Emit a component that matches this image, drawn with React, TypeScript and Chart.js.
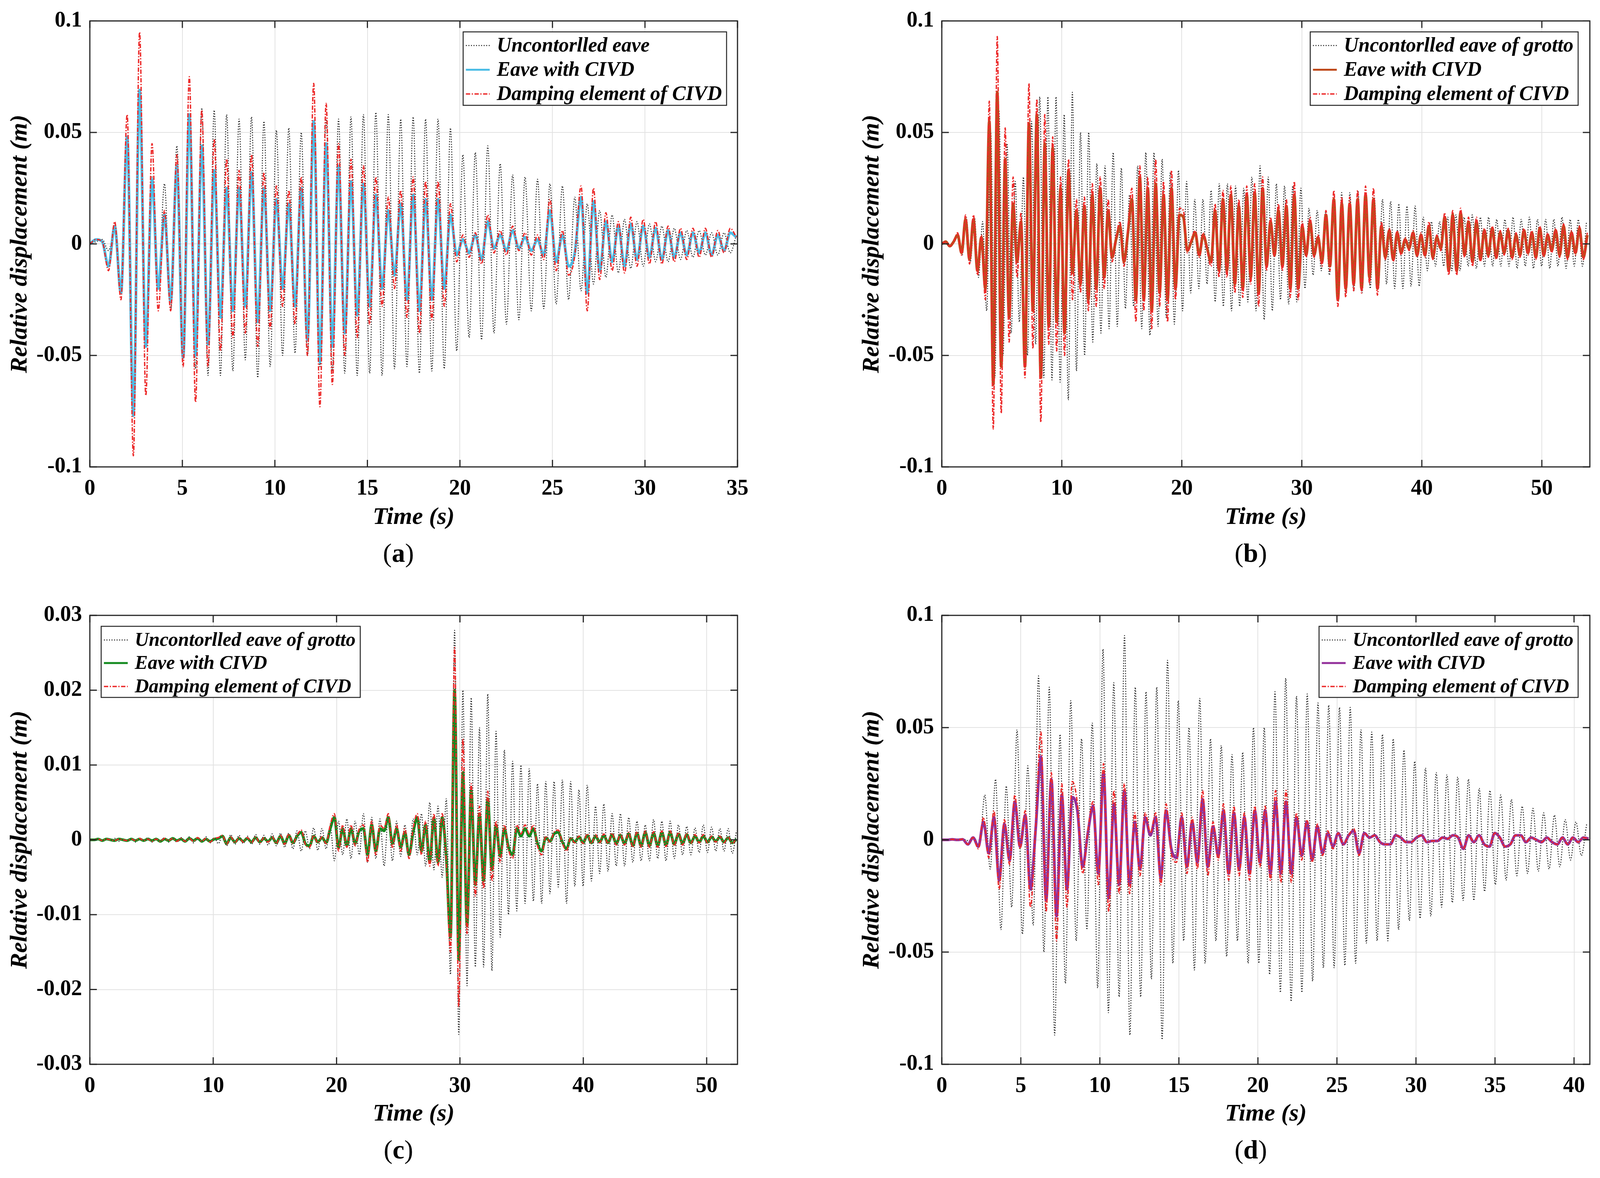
import React, { useEffect, useRef } from "react";
import { Chart, registerables } from "chart.js";

Chart.register(...registerables);

// Panel (a)
const A_STEP = 0.336;
const aUncontrolled = [
  0, 0.001, 0.002, -0.003, 0.006, -0.02, 0.045, -0.07, 0.065, -0.045,
  0.03, -0.02, 0.027, -0.03, 0.044, -0.05, 0.052, -0.056, 0.061, -0.059,
  0.06, -0.059, 0.058, -0.057, 0.056, -0.052, 0.057, -0.06, 0.055, -0.055,
  0.051, -0.05, 0.052, -0.049, 0.05, -0.05, 0.052, -0.055, 0.056, -0.057,
  0.056, -0.058, 0.057, -0.059, 0.058, -0.058, 0.059, -0.059, 0.058, -0.056,
  0.056, -0.055, 0.057, -0.058, 0.056, -0.057, 0.056, -0.056, 0.052, -0.048,
  0.04, -0.042, 0.041, -0.043, 0.044, -0.04, 0.036, -0.036, 0.031, -0.034,
  0.03, -0.03, 0.029, -0.029, 0.027, -0.027, 0.026, -0.025, 0.021, -0.021,
  0.018, -0.018, 0.015, -0.015, 0.013, -0.013, 0.011, -0.011, 0.01, -0.01,
  0.009, -0.008, 0.008, -0.008, 0.007, -0.007, 0.006, -0.006, 0.006, -0.005,
  0.005, -0.005, 0.005, -0.004, 0.004,
];
const aEave = [
  0, 0.002, 0.001, -0.01, 0.008, -0.022, 0.048, -0.077, 0.069, -0.046,
  0.029, -0.02, 0.013, -0.026, 0.035, -0.051, 0.058, -0.05, 0.044, -0.045,
  0.033, -0.033, 0.025, -0.03, 0.025, -0.028, 0.032, -0.035, 0.025, -0.03,
  0.02, -0.02, 0.018, -0.028, 0.025, -0.043, 0.055, -0.053, 0.045, -0.046,
  0.035, -0.04, 0.028, -0.032, 0.027, -0.028, 0.022, -0.02, 0.015, -0.014,
  0.018, -0.025, 0.022, -0.03, 0.02, -0.025, 0.02, -0.02, 0.013, -0.005,
  0.002, -0.004, 0.004, -0.007, 0.01, -0.002, 0.004, -0.003, 0.006, -0.002,
  0.003, -0.003, 0.002, -0.005, 0.015, -0.008, 0.004, -0.01, -0.004, 0.021,
  -0.022, 0.019, -0.012, 0.01, -0.008, 0.008, -0.01, 0.009, -0.007, 0.008,
  -0.006, 0.007, -0.007, 0.006, -0.006, 0.005, -0.005, 0.005, -0.004, 0.005,
  -0.005, 0.004, -0.003, 0.005, 0.003,
];
const aDamper = [
  0, 0.002, 0.001, -0.012, 0.01, -0.025, 0.058, -0.095, 0.095, -0.068,
  0.045, -0.03, 0.015, -0.03, 0.04, -0.055, 0.075, -0.071, 0.06, -0.055,
  0.047, -0.048, 0.038, -0.042, 0.033, -0.04, 0.04, -0.046, 0.032, -0.038,
  0.026, -0.028, 0.024, -0.036, 0.03, -0.05, 0.072, -0.073, 0.063, -0.063,
  0.045, -0.05, 0.038, -0.042, 0.035, -0.036, 0.03, -0.028, 0.021, -0.02,
  0.024, -0.033, 0.03, -0.04, 0.028, -0.034, 0.028, -0.028, 0.018, -0.008,
  0.004, -0.006, 0.005, -0.009, 0.013, -0.004, 0.006, -0.005, 0.008, -0.003,
  0.005, -0.005, 0.004, -0.007, 0.02, -0.012, 0.006, -0.014, -0.005, 0.026,
  -0.03, 0.025, -0.016, 0.014, -0.012, 0.01, -0.013, 0.012, -0.01, 0.011,
  -0.009, 0.01, -0.009, 0.008, -0.008, 0.007, -0.007, 0.007, -0.006, 0.007,
  -0.006, 0.006, -0.004, 0.007, 0.003,
];

// Panel (b)
const B_STEP_UNC = 0.34;
const B_STEP = 0.33;
const bUncontrolled = [
  0, 0.001, -0.001, 0.002, 0.004, -0.005, 0.012, -0.008, 0.012, -0.015,
  0.01, -0.03, 0.05, -0.06, 0.06, -0.05, 0.045, -0.04, 0.028, -0.035,
  0.03, -0.05, 0.055, -0.045, 0.066, -0.06, 0.066, -0.061, 0.066, -0.062,
  0.058, -0.07, 0.068, -0.057, 0.05, -0.05, 0.05, -0.044, 0.036, -0.04,
  0.035, -0.038, 0.041, -0.037, 0.034, -0.029, 0.022, -0.028, 0.035, -0.038,
  0.041, -0.041, 0.041, -0.037, 0.038, -0.033, 0.032, -0.036, 0.033, -0.03,
  0.028, -0.022, 0.02, -0.02, 0.02, -0.018, 0.024, -0.026, 0.027, -0.028,
  0.027, -0.03, 0.026, -0.028, 0.025, -0.026, 0.03, -0.03, 0.035, -0.034,
  0.03, -0.03, 0.027, -0.025, 0.026, -0.027, 0.026, -0.026, 0.025, -0.02,
  0.016, -0.014, 0.015, -0.012, 0.014, -0.014, 0.02, -0.022, 0.023, -0.022,
  0.023, -0.021, 0.024, -0.022, 0.022, -0.02, 0.021, -0.02, 0.02, -0.018,
  0.019, -0.02, 0.018, -0.02, 0.017, -0.019, 0.017, -0.019, 0.012, -0.012,
  0.01, -0.01, 0.01, -0.01, 0.012, -0.012, 0.013, -0.012, 0.012, -0.01,
  0.013, -0.011, 0.012, -0.01, 0.012, -0.01, 0.011, -0.01, 0.011, -0.01,
  0.012, -0.011, 0.011, -0.01, 0.012, -0.011, 0.011, -0.01, 0.011, -0.011,
  0.011, -0.01, 0.012, -0.011, 0.011, -0.01, 0.011, -0.01, 0.01,
];
const bEave = [
  0, 0.001, -0.001, 0.001, 0.004, -0.004, 0.011, -0.007, 0.011, -0.012,
  0.003, -0.02, 0.055, -0.063, 0.068, -0.055, 0.038, -0.033, 0.018, -0.008,
  0.01, -0.055, 0.054, -0.03, 0.058, -0.06, 0.045, -0.037, 0.043, -0.035,
  0.025, -0.04, 0.033, -0.013, 0.015, -0.018, 0.017, -0.025, 0.022, -0.02,
  0.025, -0.015, 0.015, -0.006, 0.002, 0.008, -0.008, 0.005, 0.02, -0.025,
  0.03, -0.025, 0.025, -0.03, 0.027, -0.022, 0.022, -0.025, 0.025, -0.02,
  0.013, 0.012, -0.003, 0.001, 0.005, -0.005, 0.004, -0.002, -0.008, 0.015,
  -0.012, 0.02, -0.012, 0.022, -0.018, 0.017, -0.02, 0.022, -0.015, 0.023,
  -0.022, 0.025, -0.01, 0.01, -0.005, 0.015, -0.01, 0.017, -0.02, 0.022,
  -0.02, 0.008, -0.005, 0.01, -0.005, 0.003, -0.008, 0.013, -0.01, 0.02,
  -0.025, 0.018, -0.02, 0.018, -0.018, 0.02, -0.02, 0.022, -0.015, 0.02,
  -0.02, 0.008, -0.006, 0.006, -0.007, 0.005, -0.004, 0.002, -0.002, 0.005,
  -0.005, 0.004, -0.005, 0.008, -0.006, 0.003, -0.002, 0.012, -0.012, 0.013,
  -0.012, 0.014, -0.005, 0.01, -0.008, 0.01, -0.007, 0.006, -0.005, 0.007,
  -0.006, 0.005, -0.004, 0.006, -0.006, 0.004, -0.005, 0.006, -0.004, 0.005,
  -0.006, 0.007, -0.005, 0.004, -0.003, 0.006, -0.005, 0.008, -0.006, 0.005,
  -0.004, 0.007, -0.006, 0.004,
];
const bDamper = [
  0, 0.001, -0.001, 0.001, 0.005, -0.005, 0.013, -0.009, 0.013, -0.014,
  0.004, -0.025, 0.064, -0.083, 0.093, -0.076, 0.052, -0.044, 0.03, -0.015,
  0.014, -0.06, 0.072, -0.047, 0.065, -0.08, 0.058, -0.045, 0.048, -0.048,
  0.03, -0.05, 0.038, -0.025, 0.02, -0.022, 0.021, -0.03, 0.027, -0.028,
  0.03, -0.02, 0.02, -0.008, 0.003, 0.01, -0.01, 0.007, 0.025, -0.035,
  0.035, -0.03, 0.03, -0.038, 0.038, -0.028, 0.028, -0.035, 0.033, -0.025,
  0.016, 0.015, -0.004, 0.002, 0.006, -0.006, 0.005, -0.003, -0.01, 0.018,
  -0.015, 0.024, -0.015, 0.026, -0.022, 0.02, -0.024, 0.026, -0.018, 0.027,
  -0.028, 0.03, -0.012, 0.012, -0.006, 0.018, -0.012, 0.02, -0.024, 0.028,
  -0.025, 0.01, -0.006, 0.012, -0.006, 0.004, -0.01, 0.015, -0.012, 0.024,
  -0.028, 0.021, -0.024, 0.021, -0.021, 0.024, -0.022, 0.026, -0.018, 0.025,
  -0.023, 0.01, -0.007, 0.007, -0.008, 0.006, -0.005, 0.003, -0.003, 0.006,
  -0.006, 0.005, -0.006, 0.01, -0.007, 0.004, -0.003, 0.014, -0.014, 0.015,
  -0.014, 0.016, -0.006, 0.012, -0.01, 0.012, -0.008, 0.007, -0.006, 0.008,
  -0.007, 0.006, -0.005, 0.007, -0.007, 0.005, -0.006, 0.007, -0.005, 0.006,
  -0.007, 0.008, -0.006, 0.005, -0.004, 0.007, -0.006, 0.009, -0.007, 0.006,
  -0.005, 0.008, -0.007, 0.005,
];

// Panel (c)
const C_STEP = 0.336;
const cUncontrolled = [
  0, -0.0001, 0.0001, -0.0002, 0.0002, -0.0001, 0.0002, -0.0002, 0.0001, -0.0002,
  0.0002, -0.0003, 0.0002, -0.0002, 0.0003, -0.0003, 0.0002, -0.0002, 0.0003, -0.0003,
  0.0002, -0.0003, 0.0003, -0.0003, 0.0004, -0.0004, 0.0003, -0.0003, 0.0004, -0.0004,
  0.0003, -0.0005, 0.0006, -0.0008, 0.0007, -0.0006, 0.0006, -0.0005, 0.0005, -0.0006,
  0.0007, -0.0006, 0.0006, -0.0007, 0.0008, -0.0008, 0.0009, -0.001, 0.0009, -0.0012,
  0.0012, -0.0015, 0.0012, -0.0012, 0.0016, -0.0014, 0.0015, -0.0012, 0.0018, -0.0028,
  0.0025, -0.002, 0.0028, -0.0025, 0.0025, -0.002, 0.0035, -0.003, 0.003, -0.0025,
  0.0028, -0.0035, 0.0032, -0.0028, 0.0025, -0.0022, 0.002, -0.002, 0.0028, -0.002,
  0.0035, -0.0035, 0.005, -0.004, 0.0045, -0.005, 0.0055, -0.018, 0.028, -0.026,
  0.02, -0.0195, 0.019, -0.017, 0.015, -0.017, 0.0195, -0.0175, 0.0145, -0.013,
  0.012, -0.01, 0.0105, -0.0095, 0.01, -0.0085, 0.0095, -0.0082, 0.0075, -0.0085,
  0.0078, -0.0072, 0.0078, -0.0063, 0.008, -0.0085, 0.0078, -0.0062, 0.0067, -0.0062,
  0.0073, -0.0055, 0.0045, -0.0045, 0.0048, -0.0042, 0.0035, -0.0035, 0.0035, -0.0035,
  0.003, -0.003, 0.0025, -0.0028, 0.002, -0.0028, 0.0027, -0.0025, 0.0025, -0.0028,
  0.0025, -0.0025, 0.002, -0.002, 0.0018, -0.002, 0.0016, -0.0017, 0.002, -0.0017,
  0.0017, -0.0015, 0.0015, -0.0015, 0.0015, -0.0018, 0.0012,
];
const cEave = [
  0, 0, 0.0001, -0.0001, 0.0001, 0, -0.0001, 0.0001, 0, -0.0001,
  0.0001, -0.0001, 0.0001, -0.0001, 0.0001, -0.0001, 0.0001, -0.0002, 0.0001, -0.0001,
  0.0002, -0.0001, 0.0001, -0.0002, 0.0002, -0.0001, 0.0002, -0.0002, 0.0001, -0.0002,
  0.0001, 0.0002, 0.0005, -0.0005, 0.0003, -0.0003, 0.0002, -0.0002, 0.0002, -0.0003,
  0.0003, -0.0003, 0.0002, -0.0002, 0.0003, -0.0004, 0.0005, -0.0005, 0.0006, -0.0004,
  0.0005, 0.001, -0.0005, -0.0008, 0.0005, -0.0003, 0.0003, -0.0004, 0.0015, 0.003,
  -0.001, 0.0015, -0.0008, 0.0015, -0.0005, 0.0012, 0.0015, -0.002, 0.002, -0.0015,
  0.0015, 0.0012, 0.003, -0.0005, 0.0015, -0.001, 0.001, -0.002, 0.001, 0.003,
  -0.0015, 0.002, -0.003, 0.003, -0.003, 0.003, -0.0025, -0.013, 0.02, -0.016,
  0.009, -0.0115, 0.0066, -0.006, 0.0035, -0.0055, 0.0055, -0.004, 0.002, -0.0022,
  0.0015, -0.001, -0.002, 0.0015, 0.0005, 0.0015, 0.0005, 0.0015, -0.0005, -0.0015,
  0.0003, -0.0002, 0.0008, 0.001, -0.0003, -0.0012, 0.0002, -0.0003, 0.0004, -0.0004,
  0.0006, -0.0004, 0.0005, -0.0003, 0.0006, -0.0004, 0.0007, -0.0005, 0.0006, -0.0005,
  0.0008, -0.0008, 0.0009, -0.0008, 0.001, -0.0008, 0.0009, -0.0008, 0.001, -0.0007,
  0.001, -0.0006, 0.0008, -0.0005, 0.0007, -0.0004, 0.0005, -0.0003, 0.0005, -0.0003,
  0.0004, -0.0002, 0.0004, -0.0003, 0.0003, -0.0004, 0.0001,
];
const cDamper = [
  0, 0, 0.0001, -0.0001, 0.0001, 0, -0.0001, 0.0001, 0, -0.0001,
  0.0001, -0.0001, 0.0002, -0.0001, 0.0001, -0.0002, 0.0001, -0.0002, 0.0002, -0.0001,
  0.0002, -0.0002, 0.0002, -0.0002, 0.0002, -0.0002, 0.0003, -0.0002, 0.0002, -0.0003,
  0.0002, 0.0003, 0.0006, -0.0006, 0.0004, -0.0004, 0.0003, -0.0003, 0.0003, -0.0004,
  0.0004, -0.0004, 0.0003, -0.0003, 0.0004, -0.0005, 0.0006, -0.0006, 0.0008, -0.0005,
  0.0006, 0.0013, -0.0006, -0.001, 0.0006, -0.0004, 0.0004, -0.0005, 0.002, 0.0035,
  -0.0015, 0.002, -0.001, 0.002, -0.0008, 0.0015, 0.002, -0.003, 0.0025, -0.002,
  0.002, 0.0015, 0.0035, -0.001, 0.002, -0.0015, 0.0015, -0.0025, 0.0015, 0.0035,
  -0.002, 0.0025, -0.0035, 0.0035, -0.0035, 0.0035, -0.003, -0.015, 0.0257, -0.0223,
  0.0135, -0.0125, 0.0075, -0.0075, 0.0045, -0.0065, 0.0065, -0.0055, 0.0025, -0.003,
  0.002, -0.0013, -0.0025, 0.002, 0.0008, 0.002, 0.0008, 0.002, -0.0008, -0.002,
  0.0005, -0.0003, 0.001, 0.0013, -0.0004, -0.0015, 0.0003, -0.0004, 0.0005, -0.0005,
  0.0008, -0.0005, 0.0007, -0.0004, 0.0008, -0.0005, 0.0009, -0.0007, 0.0008, -0.0007,
  0.001, -0.001, 0.0011, -0.001, 0.0012, -0.001, 0.0011, -0.001, 0.0012, -0.0009,
  0.0012, -0.0008, 0.001, -0.0007, 0.0009, -0.0005, 0.0007, -0.0004, 0.0007, -0.0004,
  0.0005, -0.0003, 0.0005, -0.0004, 0.0004, -0.0005, 0.0002,
];

// Panel (d)
const D_STEP_UNC = 0.34;
const D_STEP = 0.33;
const dUncontrolled = [
  0, 0, 0, 0, 0.0003, -0.0005, 0.001, -0.003, 0.02, -0.013,
  0.027, -0.04, 0.024, -0.03, 0.049, -0.042, 0.033, -0.038, 0.073, -0.05,
  0.068, -0.087, 0.047, -0.064, 0.062, -0.045, 0.045, -0.04, 0.052, -0.066,
  0.085, -0.077, 0.07, -0.07, 0.091, -0.087, 0.068, -0.07, 0.066, -0.062,
  0.068, -0.089, 0.08, -0.055, 0.062, -0.045, 0.05, -0.058, 0.063, -0.055,
  0.045, -0.045, 0.042, -0.052, 0.038, -0.045, 0.039, -0.055, 0.05, -0.055,
  0.05, -0.06, 0.066, -0.068, 0.072, -0.072, 0.064, -0.068, 0.065, -0.063,
  0.061, -0.057, 0.06, -0.057, 0.059, -0.056, 0.059, -0.055, 0.049, -0.046,
  0.048, -0.045, 0.047, -0.045, 0.045, -0.04, 0.04, -0.036, 0.035, -0.035,
  0.032, -0.034, 0.03, -0.03, 0.029, -0.028, 0.028, -0.027, 0.027, -0.027,
  0.023, -0.023, 0.022, -0.02, 0.02, -0.018, 0.018, -0.016, 0.015, -0.015,
  0.014, -0.014, 0.012, -0.013, 0.011, -0.012, 0.009, -0.009, 0.008, -0.007,
  0.007,
];
const dEave = [
  0, 0, 0.0002, 0, 0.0002, -0.002, 0.001, -0.003, 0.008, -0.006,
  0.01, -0.018, 0.007, -0.009, 0.017, -0.003, 0.011, -0.022, 0.005, 0.037,
  -0.027, 0.027, -0.034, 0.02, -0.022, 0.019, 0.013, -0.012, 0.003, 0.015,
  -0.015, 0.03, -0.026, 0.016, -0.02, 0.022, -0.02, 0.008, -0.013, 0.01,
  0.002, 0.01, -0.017, 0.013, -0.004, -0.008, 0.01, -0.012, 0.008, -0.01,
  0.018, -0.012, 0.006, -0.007, 0.013, -0.015, 0.012, -0.013, 0.01, -0.015,
  0.013, -0.01, 0.013, -0.015, 0.017, -0.015, 0.017, -0.015, 0.01, -0.007,
  0.008, -0.009, 0.006, -0.006, 0.003, -0.003, 0.003, -0.002, 0.002, 0.004,
  -0.006, 0.003, 0.001, 0.002, -0.001, -0.002, -0.002, 0.002, 0.001, -0.001,
  -0.001, 0.001, 0.002, -0.001, -0.0005, -0.0005, 0.001, 0.0005, 0.002, 0.001,
  -0.004, 0.002, -0.001, 0.002, -0.002, -0.003, 0.003, 0.001, -0.003, -0.002,
  0.002, 0.002, -0.001, 0.001, 0, -0.001, 0.001, -0.001, -0.002, 0.001,
  -0.002, 0.001, -0.001, 0.001, 0.0005,
];
const dDamper = [
  0, 0, 0.0002, 0, 0.0003, -0.002, 0.001, -0.004, 0.01, -0.008,
  0.013, -0.022, 0.009, -0.011, 0.02, -0.004, 0.013, -0.03, 0.006, 0.048,
  -0.032, 0.03, -0.045, 0.025, -0.03, 0.026, 0.016, -0.015, 0.004, 0.017,
  -0.02, 0.034, -0.032, 0.022, -0.024, 0.025, -0.024, 0.012, -0.016, 0.012,
  0.003, 0.012, -0.02, 0.016, -0.006, -0.01, 0.012, -0.015, 0.01, -0.013,
  0.022, -0.016, 0.008, -0.009, 0.016, -0.018, 0.015, -0.016, 0.012, -0.018,
  0.015, -0.012, 0.015, -0.018, 0.022, -0.019, 0.022, -0.019, 0.012, -0.009,
  0.009, -0.01, 0.007, -0.007, 0.004, -0.004, 0.003, -0.002, 0.002, 0.005,
  -0.007, 0.003, 0.001, 0.002, -0.001, -0.002, -0.002, 0.002, 0.001, -0.001,
  -0.001, 0.001, 0.002, -0.001, -0.0005, -0.0005, 0.001, 0.0005, 0.002, 0.001,
  -0.004, 0.002, -0.001, 0.002, -0.002, -0.003, 0.003, 0.001, -0.003, -0.002,
  0.002, 0.002, -0.001, 0.001, 0, -0.001, 0.001, -0.001, -0.002, 0.001,
  -0.002, 0.001, -0.001, 0.001, 0.0005,
];

// Axis ticks
const X_TICKS_A = [0, 5, 10, 15, 20, 25, 30, 35];
const X_TICKS_B = [0, 10, 20, 30, 40, 50];
const X_TICKS_C = [0, 10, 20, 30, 40, 50];
const X_TICKS_D = [0, 5, 10, 15, 20, 25, 30, 35, 40];
const Y_TICKS_ABD = [-0.1, -0.05, 0, 0.05, 0.1];
const Y_TICKS_C = [-0.03, -0.02, -0.01, 0, 0.01, 0.02, 0.03];

// Labels
const LABEL_UNC_A = "Uncontorlled eave";
const LABEL_UNC = "Uncontorlled eave of grotto";
const LABEL_EAVE = "Eave with CIVD";
const LABEL_DAMPER = "Damping element of CIVD";
const X_TITLE = "Time (s)";
const Y_TITLE = "Relative displacement (m)";

// ---------------- helpers ----------------
const FONT = '"Liberation Serif", "Times New Roman", serif';

const toPoints = (step: number, values: number[]) =>
  values.map((y, i) => ({ x: Math.round(i * step * 10000) / 10000, y }));

const framePlugin = {
  id: "matlabFrame",
  afterDatasetsDraw(chart: any) {
    const { ctx, chartArea: a, scales } = chart;
    ctx.save();
    ctx.strokeStyle = "#262626";
    ctx.lineWidth = 3;
    ctx.setLineDash([]);
    ctx.strokeRect(a.left, a.top, a.right - a.left, a.bottom - a.top);
    const L = 18;
    ctx.beginPath();
    scales.x.ticks.forEach((t: any) => {
      const px = scales.x.getPixelForValue(t.value);
      ctx.moveTo(px, a.bottom);
      ctx.lineTo(px, a.bottom - L);
      ctx.moveTo(px, a.top);
      ctx.lineTo(px, a.top + L);
    });
    scales.y.ticks.forEach((t: any) => {
      const py = scales.y.getPixelForValue(t.value);
      ctx.moveTo(a.left, py);
      ctx.lineTo(a.left + L, py);
      ctx.moveTo(a.right, py);
      ctx.lineTo(a.right - L, py);
    });
    ctx.stroke();
    ctx.restore();
  },
};

const legendPlugin = {
  id: "boxLegend",
  afterDraw(chart: any, _args: any, opts: any) {
    const { ctx, chartArea: a } = chart;
    const ds = chart.data.datasets;
    ctx.save();
    ctx.font = `italic bold ${opts.fontSize}px ${FONT}`;
    const maxW = Math.max(...ds.map((d: any) => ctx.measureText(d.label).width));
    const w = 86 + maxW + 12;
    const h = opts.height;
    const left = opts.side === "right" ? a.right - opts.dx - w : a.left + opts.dx;
    const top = a.top + opts.dy;
    ctx.fillStyle = "#ffffff";
    ctx.fillRect(left, top, w, h);
    ctx.strokeStyle = "#262626";
    ctx.lineWidth = 2.5;
    ctx.setLineDash([]);
    ctx.strokeRect(left, top, w, h);
    ds.forEach((d: any, i: number) => {
      const y = top + opts.rows[i];
      ctx.beginPath();
      ctx.setLineDash(d.borderDash || []);
      ctx.strokeStyle = d.borderColor;
      ctx.lineWidth = Math.min(d.borderWidth, 5);
      ctx.moveTo(left + 7, y);
      ctx.lineTo(left + 68, y);
      ctx.stroke();
      ctx.setLineDash([]);
      ctx.fillStyle = "#000";
      ctx.textAlign = "left";
      ctx.textBaseline = "middle";
      ctx.fillText(d.label, left + 86, y + 2);
    });
    ctx.restore();
  },
};

const UNC_COLOR = "#1a1a1a";
const DAMPER_COLOR = "#ec2a2a";

const PANELS = [
  {
    id: "a", left: 0, top: 0, w: 2050, h: 1480,
    padLeft: 0, padRight: 162, padTop: 46, xAxisH: 285, xTitlePad: 118,
    xMax: 35, xTicks: X_TICKS_A, yMin: -0.1, yMax: 0.1, yTicks: Y_TICKS_ABD,
    eaveColor: "#4cbde6", uncLabel: LABEL_UNC_A,
    legend: { side: "right", dx: 28, dy: 28, height: 188, rows: [35, 97, 159], fontSize: 52 },
    unc: toPoints(A_STEP, aUncontrolled), eave: toPoints(A_STEP, aEave), damper: toPoints(A_STEP, aDamper),
    labelX: 1020, labelY: 1415,
  },
  {
    id: "b", left: 2050, top: 0, w: 2049, h: 1480,
    padLeft: 131, padRight: 29, padTop: 46, xAxisH: 285, xTitlePad: 118,
    xMax: 54, xTicks: X_TICKS_B, yMin: -0.1, yMax: 0.1, yTicks: Y_TICKS_ABD,
    eaveColor: "#bf4a1c", uncLabel: LABEL_UNC,
    legend: { side: "right", dx: 30, dy: 28, height: 188, rows: [35, 97, 159], fontSize: 52 },
    unc: toPoints(B_STEP_UNC, bUncontrolled), eave: toPoints(B_STEP, bEave), damper: toPoints(B_STEP, bDamper),
    labelX: 3202, labelY: 1415,
  },
  {
    id: "c", left: 0, top: 1500, w: 2050, h: 1480,
    padLeft: 0, padRight: 162, padTop: 75, xAxisH: 256, xTitlePad: 91,
    xMax: 52.5, xTicks: X_TICKS_C, yMin: -0.03, yMax: 0.03, yTicks: Y_TICKS_C,
    eaveColor: "#138a1e", uncLabel: LABEL_UNC,
    legend: { side: "left", dx: 29, dy: 28, height: 182, rows: [35, 94, 154], fontSize: 50 },
    unc: toPoints(C_STEP, cUncontrolled), eave: toPoints(C_STEP, cEave), damper: toPoints(C_STEP, cDamper),
    labelX: 1020, labelY: 2942,
  },
  {
    id: "d", left: 2050, top: 1500, w: 2049, h: 1480,
    padLeft: 131, padRight: 29, padTop: 75, xAxisH: 256, xTitlePad: 91,
    xMax: 41, xTicks: X_TICKS_D, yMin: -0.1, yMax: 0.1, yTicks: Y_TICKS_ABD,
    eaveColor: "#922f9a", uncLabel: LABEL_UNC,
    legend: { side: "right", dx: 30, dy: 28, height: 182, rows: [35, 94, 154], fontSize: 50 },
    unc: toPoints(D_STEP_UNC, dUncontrolled), eave: toPoints(D_STEP, dEave), damper: toPoints(D_STEP, dDamper),
    labelX: 3202, labelY: 2942,
  },
];

function Panel({ p }: { p: any }) {
  const ref = useRef<HTMLCanvasElement>(null);
  useEffect(() => {
    const tickFont = { family: FONT, size: 56, weight: "bold" as const };
    const titleFont = { family: FONT, size: 62, weight: "bold" as const, style: "italic" as const };
    const chart = new Chart(ref.current as HTMLCanvasElement, {
      type: "line",
      data: {
        datasets: [
          {
            label: p.uncLabel, data: p.unc, parsing: false, order: 3,
            borderColor: UNC_COLOR, borderWidth: 2.5, borderDash: [2.5, 4],
            pointRadius: 0, fill: false, cubicInterpolationMode: "monotone",
          },
          {
            label: LABEL_EAVE, data: p.eave, parsing: false, order: 2,
            borderColor: p.eaveColor, borderWidth: 7,
            pointRadius: 0, fill: false, cubicInterpolationMode: "monotone",
          },
          {
            label: LABEL_DAMPER, data: p.damper, parsing: false, order: 1,
            borderColor: DAMPER_COLOR, borderWidth: 3.5, borderDash: [11, 4, 3, 4],
            pointRadius: 0, fill: false, cubicInterpolationMode: "monotone",
          },
        ] as any,
      },
      options: {
        responsive: false,
        animation: false,
        devicePixelRatio: 1,
        events: [],
        layout: {
          autoPadding: false,
          padding: { left: p.padLeft, right: p.padRight, top: p.padTop, bottom: 0 },
        },
        plugins: {
          legend: { display: false },
          tooltip: { enabled: false },
          title: { display: false },
          boxLegend: p.legend,
        } as any,
        scales: {
          x: {
            type: "linear",
            min: 0,
            max: p.xMax,
            afterBuildTicks: (s: any) => { s.ticks = p.xTicks.map((v: number) => ({ value: v })); },
            afterFit: (s: any) => { s.height = p.xAxisH; },
            grid: { color: "#e2e2e2", lineWidth: 2, drawTicks: false },
            border: { display: false },
            ticks: {
              padding: 23, color: "#000", font: tickFont, maxRotation: 0, autoSkip: false,
              callback: (v: any) => String(v),
            },
            title: {
              display: true, text: X_TITLE, color: "#000", font: titleFont,
              padding: { top: 0, bottom: p.xTitlePad },
            },
          },
          y: {
            type: "linear",
            min: p.yMin,
            max: p.yMax,
            afterBuildTicks: (s: any) => { s.ticks = p.yTicks.map((v: number) => ({ value: v })); },
            afterFit: (s: any) => { s.width = 230; },
            grid: { color: "#e2e2e2", lineWidth: 2, drawTicks: false },
            border: { display: false },
            ticks: {
              padding: 20, color: "#000", font: tickFont, autoSkip: false,
              callback: (v: any) => String(v),
            },
            title: {
              display: true, text: Y_TITLE, color: "#000", font: titleFont,
              padding: { top: 15, bottom: 0 },
            },
          },
        },
      } as any,
      plugins: [framePlugin, legendPlugin],
    });
    return () => chart.destroy();
  }, []);
  return (
    <canvas
      ref={ref}
      width={p.w}
      height={p.h}
      style={{ position: "absolute", left: p.left, top: p.top, width: p.w, height: p.h }}
    />
  );
}

export default function App() {
  return (
    <div
      style={{
        position: "absolute", left: 0, top: 0, width: 4099, height: 3015,
        background: "#ffffff", overflow: "hidden",
      }}
    >
      {PANELS.map((p) => (
        <Panel key={p.id} p={p} />
      ))}
      {PANELS.map((p) => (
        <div
          key={p.id + "-label"}
          style={{
            position: "absolute", left: p.labelX - 100, top: p.labelY - 50, width: 200, height: 100,
            lineHeight: "100px", textAlign: "center", color: "#000",
            fontFamily: FONT, fontSize: 68,
          }}
        >
          (<b>{p.id}</b>)
        </div>
      ))}
    </div>
  );
}
